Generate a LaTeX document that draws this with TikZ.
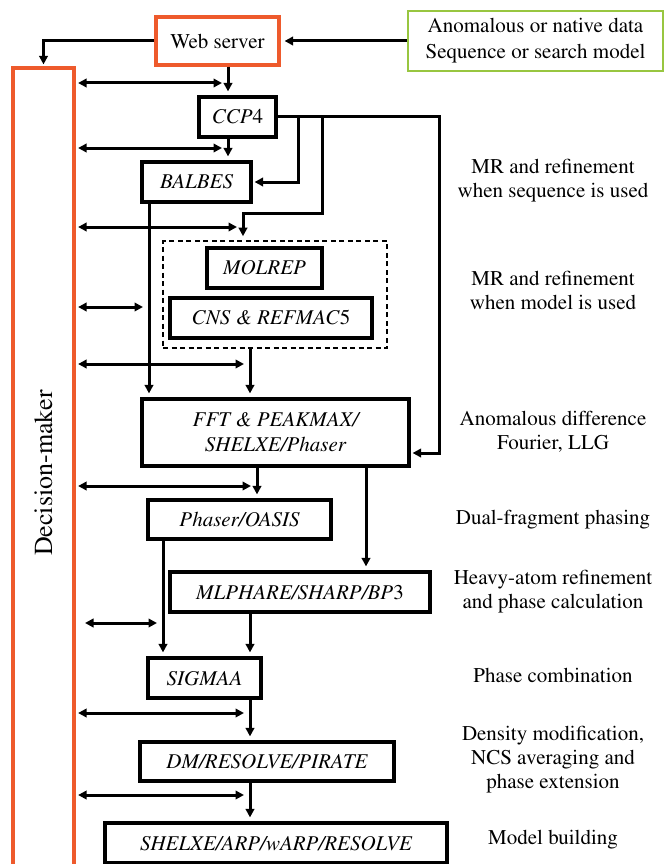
\documentclass[tikz,border=0pt]{standalone}
\usepackage[T1]{fontenc}
\usepackage{mathptmx}
\usetikzlibrary{arrows.meta,positioning,calc}

\definecolor{hubred}{RGB}{238,90,44}
\definecolor{inputgreen}{RGB}{152,198,64}

\begin{document}
\begin{tikzpicture}[
  x=1pt, y=-1pt,
  every node/.style={font=\fontsize{21}{24}\selectfont},
  prog/.style={draw, line width=3.2pt, inner sep=0pt, align=center,
               font=\fontsize{21}{25}\selectfont\itshape},
  hub/.style={draw=hubred, line width=3.2pt, inner sep=0pt},
  note/.style={align=center},
  link/.style={line width=3pt, shorten >=4pt},
  duplex/.style={line width=3pt, <->, shorten <=2.5pt, shorten >=6pt},
  >={Triangle[length=8.5pt,width=8.5pt]}
]
\useasboundingbox (0,0) rectangle (665,864);

\node[hub, minimum width=123pt, minimum height=48pt] (web) at (217.5,41) {Web server};
\node[draw=inputgreen, line width=2.8pt, minimum width=255pt, minimum height=60pt,
      align=center, font=\fontsize{21}{26}\selectfont] (data) at (535.5,41)
  {Anomalous or native data\\Sequence or search model};
\node[hub, minimum width=61pt, minimum height=810pt,
      font=\fontsize{26}{30}\selectfont] (dec) at (43.5,473) {\rotatebox{90}{Decision-maker}};

\node[prog, minimum width=77pt,  minimum height=40pt] (ccp4)    at (237.5,117) {CCP\textup{4}};
\node[prog, minimum width=109pt, minimum height=40pt] (balbes)  at (196.5,182) {BALBES};
\node[draw, dash pattern=on 5pt off 3.5pt, line width=1.6pt, minimum width=224pt, minimum height=107pt] (grp) at (275,294.5) {};
\node[prog, minimum width=115pt, minimum height=40pt] (molrep)  at (264.5,268) {MOLREP};
\node[prog, minimum width=202pt, minimum height=40pt] (cns)     at (271,318)   {CNS \& REFMAC\textup{5}};
\node[prog, minimum width=267pt, minimum height=67pt] (fft)     at (275.5,432.5) {FFT \& PEAKMAX/\\SHELXE/Phaser};
\node[prog, minimum width=183pt, minimum height=39pt] (oasis)   at (239.5,519.5) {Phaser/OASIS};
\node[prog, minimum width=260pt, minimum height=40pt] (mlphare) at (300,592)   {MLPHARE/SHARP/BP\textup{3}};
\node[prog, minimum width=113pt, minimum height=40pt] (sigmaa)  at (204.5,678) {SIGMAA};
\node[prog, minimum width=254pt, minimum height=39pt] (dm)      at (267,761.5) {DM/RESOLVE/PIRATE};
\node[prog, minimum width=342pt, minimum height=40pt] (shelxe)  at (276,843)   {SHELXE/ARP/wARP/RESOLVE};

\node[note] (lseq)   at (553,180.5) {MR and refinement\\when sequence is used};
\node[note] (lmod)   at (553,290.5) {MR and refinement\\when model is used};
\node[note] (lano)   at (553,431.5) {Anomalous difference\\Fourier, LLG};
\node[note] (ldual)  at (553,520)   {Dual-fragment phasing};
\node[note] (lheavy) at (553,591.5) {Heavy-atom refinement\\and phase calculation};
\node[note] (lcomb)  at (553,675)   {Phase combination};
\node[note] (ldens)  at (553,760)   {Density modification,\\NCS averaging and\\phase extension};
\node[note] (lbuild) at (553,840)   {Model building};

\draw[->, link] (data.west) -- (web.east);
\draw[->, link, shorten >=2pt] (web.west) -| (dec.north);
\draw[->, link] ([xshift=10.5pt]web.south) -- ([xshift=-9.5pt]ccp4.north);
\draw[->, link] ([xshift=-9.5pt]ccp4.south) -- ([xshift=31.5pt]balbes.north);
\draw[->, link, shorten >=2pt] (ccp4.east) -- ++(21,0) |- (balbes.east);
\draw[->, link] (ccp4.east) -- ++(45,0) -- ++(0,96) -| ([xshift=-32pt]grp.north);
\draw[->, link, shorten >=2pt] (ccp4.east) -- ++(162,0) |- ([yshift=-20.5pt]fft.east);
\draw[->, link] ([xshift=-47.5pt]balbes.south) -- ([xshift=-126.5pt]fft.north);
\draw[->, link] ([xshift=-25pt]grp.south) -- ([xshift=-25.5pt]fft.north);
\draw[->, link] ([xshift=-18.5pt]fft.south) -- ([xshift=17.5pt]oasis.north);
\draw[->, link] ([xshift=90.5pt]fft.south) -- ([xshift=66pt]mlphare.north);
\draw[->, link] ([xshift=-76.5pt]oasis.south) -- ([xshift=-41.5pt]sigmaa.north);
\draw[->, link] ([xshift=-50pt]mlphare.south) -- ([xshift=45.5pt]sigmaa.north);
\draw[->, link] ([xshift=45.5pt]sigmaa.south) -- ([xshift=-17pt]dm.north);
\draw[->, link] ([xshift=-17pt]dm.south) -- ([xshift=-26pt]shelxe.north);

\coordinate (b1) at (228,83);
\coordinate (b2) at (228,148);
\coordinate (b3) at (243,227);
\coordinate (b4) at (149,307);
\coordinate (b5) at (250,364);
\coordinate (b6) at (257,486);
\coordinate (b7) at (163,623);
\coordinate (b7l) at (85,623);
\coordinate (b8) at (250,713);
\coordinate (b9) at (250,795);

\draw[duplex] (dec.east |- b1) -- (b1);
\draw[duplex] (dec.east |- b2) -- (b2);
\draw[duplex] (dec.east |- b3) -- (b3);
\draw[duplex] (dec.east |- b4) -- (b4);
\draw[duplex] (dec.east |- b5) -- (b5);
\draw[duplex] (dec.east |- b6) -- (b6);
\draw[duplex, shorten <=0pt] (b7l) -- (b7);
\draw[duplex] (dec.east |- b8) -- (b8);
\draw[duplex] (dec.east |- b9) -- (b9);
\end{tikzpicture}
\end{document}
